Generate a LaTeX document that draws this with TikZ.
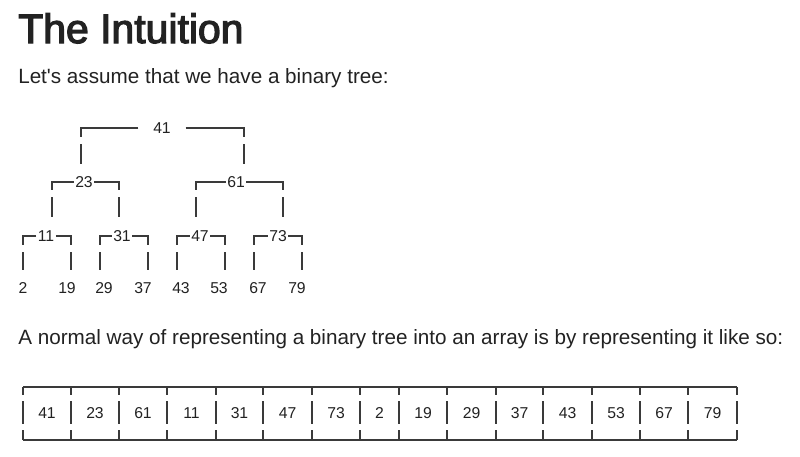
\documentclass[tikz,border=0pt]{standalone}
\usepackage{fontspec}
\setmainfont{Liberation Sans}
\newfontfamily\titlefont[FakeBold=3]{Liberation Sans}
\definecolor{ink}{HTML}{222222}
\definecolor{rule}{HTML}{3A3A3A}
\begin{document}
\begin{tikzpicture}[x=0.75pt,y=-0.75pt,
  num/.style={font=\fontsize{11.8pt}{14pt}\selectfont, text=ink, inner sep=0pt},
  bar/.style={draw=rule, line width=0.8pt},
  cellnum/.style={num},
  body/.style={anchor=base west, inner sep=0pt, text=ink, font=\fontsize{15.5pt}{18pt}\selectfont}]
\useasboundingbox[fill=white] (0,0) rectangle (800,457);
% headings
\node[anchor=base west, inner sep=0pt, text=ink, font=\titlefont\fontsize{30.7pt}{33pt}\selectfont] (title) at (18,43) {The Intuition};
\node[body] (intro) at (18,83) {Let\textquotesingle s assume that we have a binary tree:};
\node[body] (normal) at (18,344) {A normal way of representing a binary tree into an array is by representing it like so:};
% tree nodes
\node[num, inner xsep=11pt] (n41) at (162,128) {41};
\node[num, inner xsep=1pt] (n23) at (84,182) {23};
\node[num, inner xsep=1pt] (n61) at (236,182) {61};
\node[num, inner xsep=1pt] (n11) at (46,236) {11};
\node[num, inner xsep=1pt] (n31) at (122,236) {31};
\node[num, inner xsep=1pt] (n47) at (200,236) {47};
\node[num, inner xsep=1pt] (n73) at (278,236) {73};
\node[num] (n2) at (23,288) {2};
\node[num] (n19) at (67,288) {19};
\node[num] (n29) at (104,288) {29};
\node[num] (n37) at (143,288) {37};
\node[num] (n43) at (181,288) {43};
\node[num] (n53) at (219,288) {53};
\node[num] (n67) at (258,288) {67};
\node[num] (n79) at (297,288) {79};
% brackets: node, left x, right x, line y, corner y, vertical top, vertical bottom
\foreach \n/\l/\r/\yy/\c/\vt/\vb in {n41/81/244/128/137/144/164, n23/52/119/182/190/197/217, n61/196/283/182/190/197/217, n11/23/71/236/245/252/270, n31/100/148/236/245/252/270, n47/177/225/236/245/252/270, n73/254/302/236/245/252/270}{
  \draw[bar] (\n.west) -- (\l,\yy) -- (\l,\c);
  \draw[bar] (\n.east) -- (\r,\yy) -- (\r,\c);
  \draw[bar] (\l,\vt) -- (\l,\vb);
  \draw[bar] (\r,\vt) -- (\r,\vb);
}
% array
\foreach \v/\a/\b [count=\i] in {41/23/71, 23/71/119, 61/119/167, 11/167/216, 31/216/263, 47/263/312, 73/312/360, 2/360/399, 19/399/447, 29/447/496, 37/496/543, 43/543/592, 53/592/640, 67/640/688, 79/688/737}{
  \node[cellnum] (c\i) at ({(\a+\b)/2},413) {\v};
}
\coordinate (atl) at (23,387);
\coordinate (atr) at (737,387);
\coordinate (abl) at (23,440);
\coordinate (abr) at (737,440);
\draw[bar] (atl) -- (atr);
\draw[bar] (abl) -- (abr);
\foreach \x in {23,71,119,167,216,263,312,360,399,447,496,543,592,640,688,737}{
  \draw[bar] (\x,387) -- (\x,395);
  \draw[bar] (\x,401) -- (\x,424);
  \draw[bar] (\x,430) -- (\x,440);
}
\end{tikzpicture}
\end{document}
